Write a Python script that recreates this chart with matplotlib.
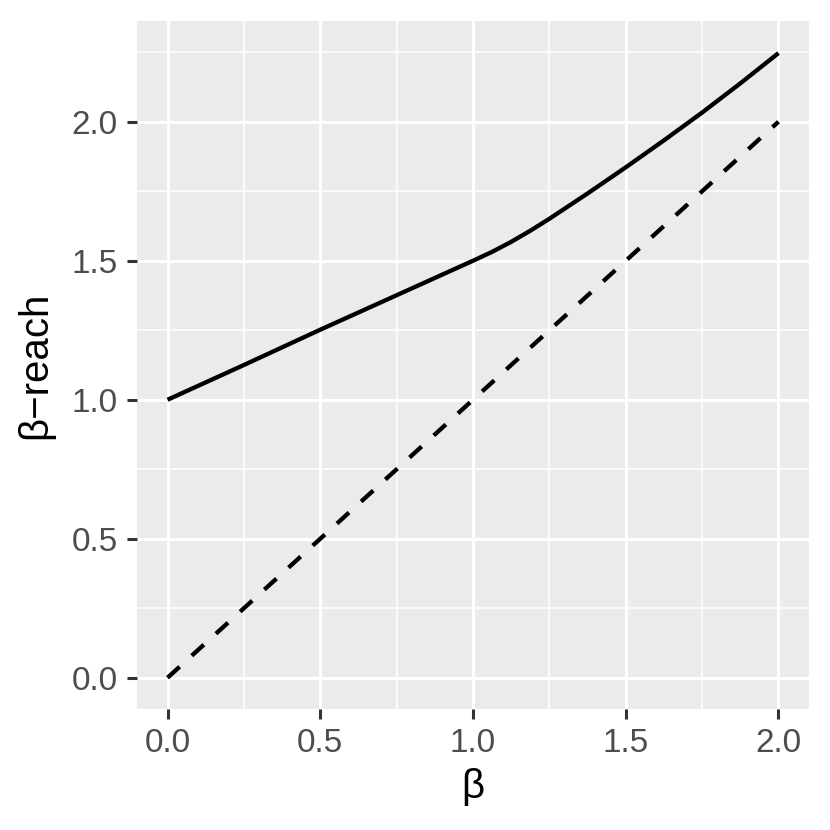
import numpy as np
import matplotlib.pyplot as plt

# values
beta = [0.0, 0.25, 0.5, 0.75, 1.0, 1.0625, 1.125, 1.1875, 1.25, 1.375,
        1.5, 1.625, 1.75, 1.875, 2.0]
reach = [1.0, 1.125, 1.252, 1.376, 1.5, 1.532, 1.568, 1.608, 1.651, 1.742,
         1.836, 1.933, 2.033, 2.138, 2.247]

ref_x = [0.0, 2.0]
ref_y = [0.0, 2.0]

x_ticks = [0.0, 0.5, 1.0, 1.5, 2.0]
y_ticks = [0.0, 0.5, 1.0, 1.5, 2.0]

plt.rcParams['font.family'] = ['Liberation Sans', 'DejaVu Sans']

fig = plt.figure(figsize=(8.3, 8.3), dpi=100)
ax = fig.add_axes([137 / 830, 1 - 709 / 830, 672 / 830, 688 / 830])
ax.set_facecolor("#EBEBEB")

ax.plot(beta, reach, color="black", linewidth=3.1, solid_capstyle="butt",
        solid_joinstyle="round")
ax.plot(ref_x, ref_y, color="black", linewidth=3.1, linestyle=(0, (3.8, 3.8)),
        dash_capstyle="butt")

ax.set_xlim(-0.1, 2.1)
ax.set_ylim(-0.1125, 2.3625)

ax.set_xticks(x_ticks)
ax.set_xticklabels([f"{v:.1f}" for v in x_ticks])
ax.set_yticks(y_ticks)
ax.set_yticklabels([f"{v:.1f}" for v in y_ticks])
ax.set_xticks([0.25, 0.75, 1.25, 1.75], minor=True)
ax.set_yticks([0.25, 0.75, 1.25, 1.75, 2.25], minor=True)

ax.grid(which="major", color="white", linewidth=2.2)
ax.grid(which="minor", color="white", linewidth=1.1)
ax.set_axisbelow(True)

for s in ax.spines.values():
    s.set_visible(False)

ax.tick_params(which="major", length=7, width=2.2, color="#333333",
               labelsize=24, labelcolor="#4D4D4D", pad=7)
ax.tick_params(which="minor", length=0)

ax.set_xlabel("β", fontsize=29, labelpad=6)
ax.set_ylabel("β\u2212reach", fontsize=29, labelpad=12)

fig.savefig("out.png", dpi=100)
